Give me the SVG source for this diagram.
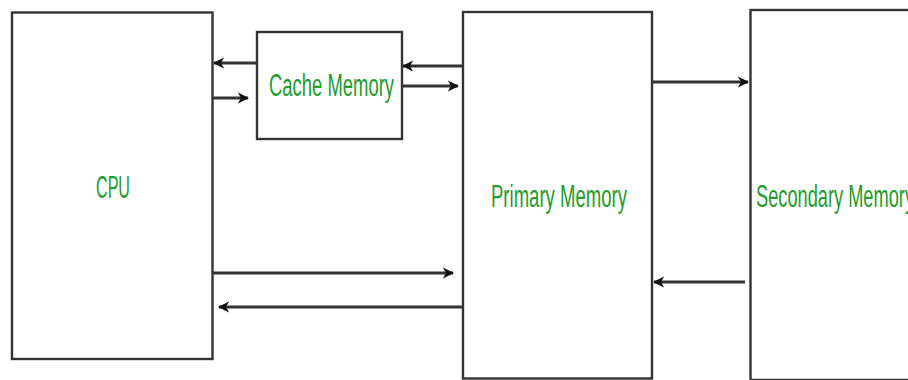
<svg xmlns="http://www.w3.org/2000/svg" width="908" height="380" viewBox="0 0 908 380">
  <defs>
    <marker id="arrow" viewBox="0 0 10 10" refX="9" refY="5" markerWidth="3.6" markerHeight="3.6" orient="auto" markerUnits="strokeWidth">
      <path d="M0,0 L10,5 L0,10 L3,5 Z" fill="#111"/>
    </marker>
  </defs>
  <style>
    .box { fill: #fff; stroke: #333; stroke-width: 2.4; }
    .label { font-family: "Liberation Sans", Arial, sans-serif; font-size: 31px; fill: #229c2c; }
    .link { stroke: #333; stroke-width: 3.2; fill: none; marker-end: url(#arrow); }
  </style>
  <rect width="908" height="380" fill="#fff"/>

  <g id="cpu">
    <rect class="box" x="12" y="12.5" width="200.5" height="346.5"/>
    <text class="label" x="96" y="198" textLength="34" lengthAdjust="spacingAndGlyphs">CPU</text>
  </g>

  <g id="cache-memory">
    <rect class="box" x="257" y="32" width="145" height="107"/>
    <text class="label" x="269" y="96" textLength="125" lengthAdjust="spacingAndGlyphs">Cache Memory</text>
  </g>

  <g id="primary-memory">
    <rect class="box" x="463" y="12" width="189" height="366.5"/>
    <text class="label" x="491" y="207" textLength="136" lengthAdjust="spacingAndGlyphs">Primary Memory</text>
  </g>

  <g id="secondary-memory">
    <rect class="box" x="750.5" y="10" width="170" height="370"/>
    <text class="label" x="756" y="207" textLength="158" lengthAdjust="spacingAndGlyphs">Secondary Memory</text>
  </g>

  <g id="connectors">
    <!-- cache <-> cpu -->
    <line class="link" x1="256" y1="63" x2="214" y2="63"/>
    <line class="link" x1="213" y1="98" x2="248" y2="98"/>
    <!-- primary <-> cache -->
    <line class="link" x1="462" y1="66" x2="403" y2="66"/>
    <line class="link" x1="403" y1="86" x2="458" y2="86"/>
    <!-- primary <-> secondary -->
    <line class="link" x1="653" y1="82" x2="748" y2="82"/>
    <line class="link" x1="745" y1="282" x2="654" y2="282"/>
    <!-- cpu <-> primary -->
    <line class="link" x1="213" y1="273" x2="453" y2="273"/>
    <line class="link" x1="462" y1="307" x2="219" y2="307"/>
  </g>
</svg>
